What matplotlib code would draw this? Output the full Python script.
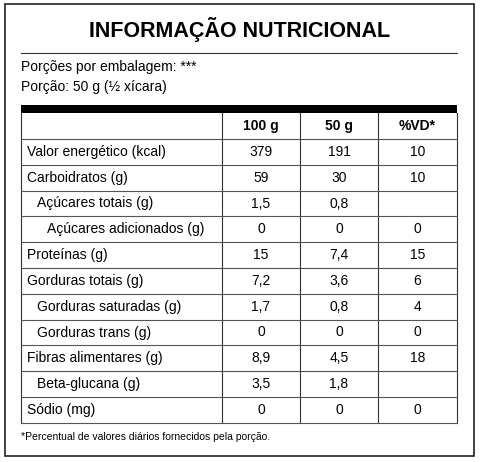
import matplotlib
matplotlib.use("Agg")
import matplotlib.pyplot as plt

title = "INFORMAÇÃO NUTRICIONAL"
portions = ["Porções por embalagem: ***", "Porção: 50 g (½ xícara)"]
headers = ["100 g", "50 g", "%VD*"]
nutrients = ["Valor energético (kcal)", "Carboidratos (g)", "Açúcares totais (g)",
             "Açúcares adicionados (g)", "Proteínas (g)", "Gorduras totais (g)",
             "Gorduras saturadas (g)", "Gorduras trans (g)", "Fibras alimentares (g)",
             "Beta-glucana (g)", "Sódio (mg)"]
indent = [0, 0, 1, 2, 0, 0, 1, 1, 0, 1, 0]
per100 = ["379", "59", "1,5", "0", "15", "7,2", "1,7", "0", "8,9", "3,5", "0"]
per50 = ["191", "30", "0,8", "0", "7,4", "3,6", "0,8", "0", "4,5", "1,8", "0"]
vd = ["10", "10", "", "0", "15", "6", "4", "0", "18", "", "0"]
footnote = "*Percentual de valores diários fornecidos pela porção."

W, H = 480, 462
fig = plt.figure(figsize=(W/100, H/100), dpi=100)
ax = fig.add_axes([0, 0, 1, 1])
ax.set_xlim(0, W); ax.set_ylim(H, 0); ax.axis("off")
plt.rcParams['font.family'] = ['Liberation Sans', 'DejaVu Sans']

ax.add_patch(plt.Rectangle((5, 4), 469, 452, fill=False, ec="#222", lw=1.2))
ax.text(240, 30, title, ha="center", va="center", fontsize=15.5, fontweight="bold")
ax.plot([21, 457], [53, 53], color="#333", lw=0.8)
ax.text(21, 67, portions[0], va="center", fontsize=10)
ax.text(21, 87, portions[1], va="center", fontsize=10)
ax.add_patch(plt.Rectangle((21, 105), 436, 8, color="black", lw=0))

L, R = 21, 457
cols = [222, 300, 378]
top = 113
hh = 26
rh = 25.8
bottom = top + hh + rh * len(nutrients)
ax.plot([L, L], [113, bottom], color="#333", lw=0.8)
ax.plot([R, R], [113, bottom], color="#333", lw=0.8)
for c in cols:
    ax.plot([c, c], [113, bottom], color="#333", lw=0.8)
ax.plot([L, R], [top + hh, top + hh], color="#555", lw=0.8)
centers = [(cols[0]+cols[1])/2, (cols[1]+cols[2])/2, (cols[2]+R)/2]
for x, h in zip(centers, headers):
    ax.text(x, top + hh/2, h, ha="center", va="center", fontsize=10, fontweight="bold")
for i, n in enumerate(nutrients):
    y0 = top + hh + i * rh
    ax.plot([L, R], [y0 + rh, y0 + rh], color="#555", lw=0.8)
    yc = y0 + rh/2
    ax.text(27 + 10*indent[i], yc, n, va="center", fontsize=10)
    for x, v in zip(centers, [per100[i], per50[i], vd[i]]):
        ax.text(x, yc, v, ha="center", va="center", fontsize=10)
ax.text(21, 437, footnote, va="center", fontsize=7.5)
fig.savefig("out.png", dpi=100)
